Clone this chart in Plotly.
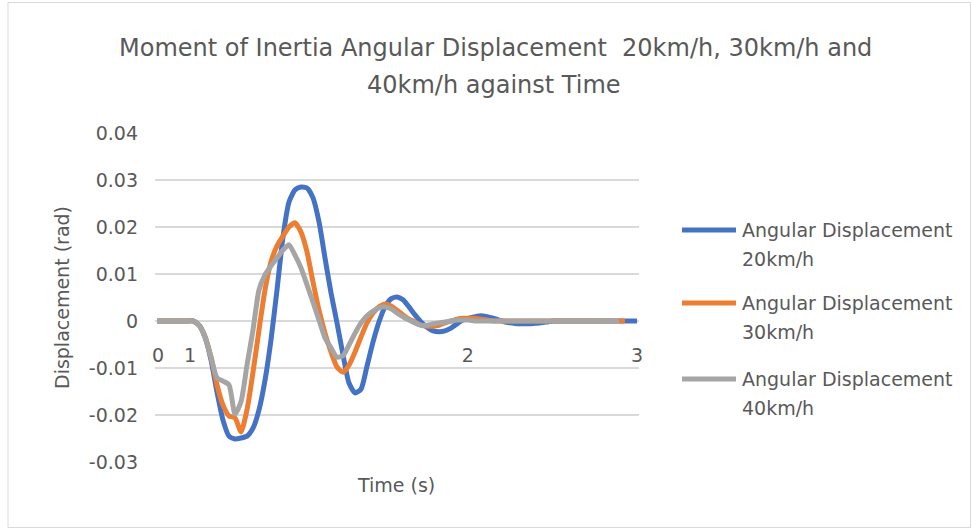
import plotly.graph_objects as go

# Angular displacement (rad) sampled at equal time steps
disp_20 = [
    0, 0, 0, 0, 0, 0, 0, -0.0009, -0.0034, -0.0083,
    -0.0151, -0.0211, -0.0245, -0.0251, -0.0249, -0.0245, -0.0228, -0.0189, -0.0126, -0.0040,
    0.0066, 0.0179, 0.0253, 0.0279, 0.0285, 0.0283, 0.0262, 0.0211, 0.0134, 0.0060,
    -0.0004, -0.0072, -0.0132, -0.0153, -0.0145, -0.0096, -0.0045, -0.0002, 0.0030, 0.0047,
    0.0051, 0.0045, 0.0030, 0.0013, -0.0002, -0.0013, -0.0021, -0.0023, -0.0021, -0.0015,
    -0.0006, 0.0002, 0.0006, 0.0009, 0.0011, 0.0009, 0.0006, 0.0002, -0.0002, -0.0004,
    -0.0006, -0.0006, -0.0006, -0.0005, -0.0004, -0.0002, 0, 0, 0, 0,
    0, 0, 0, 0, 0, 0, 0, 0, 0, 0,
    0,
]
disp_30 = [
    0, 0, 0, 0, 0, 0, 0, -0.0009, -0.0034, -0.0077,
    -0.0136, -0.0179, -0.0202, -0.0206, -0.0236, -0.0189, -0.0109, -0.0019, 0.0066, 0.0126,
    0.0160, 0.0181, 0.0200, 0.0209, 0.0189, 0.0147, 0.0083, 0.0023, -0.0026, -0.0066,
    -0.0098, -0.0109, -0.0094, -0.0066, -0.0034, -0.0004, 0.0017, 0.0030, 0.0036, 0.0032,
    0.0023, 0.0013, 0.0004, -0.0002, -0.0009, -0.0011, -0.0011, -0.0009, -0.0004, 0,
    0.0004, 0.0006, 0.0006, 0.0006, 0.0004, 0.0002, 0, 0, 0, 0,
    0, 0, 0, 0, 0, 0, 0, 0, 0, 0,
    0, 0, 0, 0, 0, 0, 0, 0, 0,
]
disp_40 = [
    0, 0, 0, 0, 0, 0, 0, -0.0009, -0.0034, -0.0077,
    -0.0121, -0.0128, -0.0136, -0.0198, -0.0172, -0.0094, -0.0019, 0.0066, 0.0098, 0.0117,
    0.0134, 0.0151, 0.0162, 0.0140, 0.0113, 0.0077, 0.0040, 0.0002, -0.0036, -0.0057,
    -0.0077, -0.0074, -0.0051, -0.0026, -0.0004, 0.0011, 0.0021, 0.0028, 0.0030, 0.0026,
    0.0017, 0.0009, 0.0002, -0.0004, -0.0009, -0.0009, -0.0006, -0.0004, -0.0002, 0,
    0.0002, 0.0002, 0.0002, 0, 0, 0, 0, 0, 0, 0,
    0, 0, 0, 0, 0, 0, 0, 0, 0, 0,
    0, 0, 0, 0, 0, 0, 0, 0,
]

series_names = [
    "Angular Displacement 20km/h",
    "Angular Displacement 30km/h",
    "Angular Displacement 40km/h",
]
series_colors = ["#4472C4", "#ED7D31", "#A5A5A5"]

# Time axis labels (s) and the sample index each one sits at
time_labels = ["0", "1", "2", "3"]
time_label_index = [0.17, 5.5, 51.8, 80]

y_ticks = [-0.03, -0.02, -0.01, 0, 0.01, 0.02, 0.03, 0.04]

W, H = 972, 530
L, R, T, B = 155, 333, 132, 67
PW, PH = W - L - R, H - T - B
TXT = "#595959"
FONT = "DejaVu Sans"


def px(x):
    return (x - L) / PW


def py(y):
    return (H - B - y) / PH


fig = go.Figure()
for name, vals, col in zip(series_names, [disp_20, disp_30, disp_40], series_colors):
    fig.add_trace(go.Scatter(
        x=list(range(len(vals))), y=vals, name=name, mode="lines",
        line=dict(color=col, width=5, shape="spline", smoothing=0.6),
        showlegend=False, hoverinfo="x+y",
    ))

pad = 0.07 / (PH - 2)
fig.update_layout(
    width=W, height=H,
    margin=dict(l=L, r=R, t=T, b=B, autoexpand=False),
    paper_bgcolor="white", plot_bgcolor="white",
    font=dict(family=FONT, size=19, color=TXT),
    xaxis=dict(
        range=[-1 / 3, 80 + 1 / 3],
        tickvals=time_label_index, ticktext=time_labels,
        showgrid=False, zeroline=False, showline=False,
        ticks="", ticklabelstandoff=21,
        anchor="free", position=(H - B - 321) / PH,
        tickfont=dict(family=FONT, size=19, color=TXT),
    ),
    yaxis=dict(
        range=[-0.03 - pad, 0.04 + pad],
        tickvals=y_ticks, ticktext=[f"{v:g}" for v in y_ticks],
        showgrid=True, gridcolor="#D9D9D9", gridwidth=1.5,
        zeroline=False, showline=False, ticks="", ticklabelstandoff=16,
        tickfont=dict(family=FONT, size=19, color=TXT),
    ),
)

ann = [
    dict(text="Moment of Inertia Angular Displacement\u00a0 20km/h, 30km/h and",
         x=px(495), y=py(48), font=dict(size=24)),
    dict(text="40km/h against Time", x=px(494), y=py(85), font=dict(size=24)),
    dict(text="Displacement (rad)", x=px(62), y=py(298), textangle=-90),
    dict(text="Time (s)", x=px(396), y=py(485)),
]
for a in ann:
    a.update(xref="paper", yref="paper", showarrow=False,
             xanchor="center", yanchor="middle")
    fig.add_annotation(**a)

# Legend drawn beside the plot area
legend_rows = [230, 303, 379]
for name, col, yrow in zip(series_names, series_colors, legend_rows):
    fig.add_shape(type="line", xref="paper", yref="paper",
                  x0=px(682), x1=px(736), y0=py(yrow), y1=py(yrow),
                  line=dict(color=col, width=5))
    first, second = name.rsplit(" ", 1)
    for txt, yy in [(first, yrow), (second, yrow + 29)]:
        fig.add_annotation(text=txt, xref="paper", yref="paper",
                           x=px(740), y=py(yy), showarrow=False,
                           xanchor="left", yanchor="middle")

# Chart border
fig.add_shape(type="rect", xref="paper", yref="paper",
              x0=px(8), x1=px(970.5), y0=py(2.5), y1=py(527.5),
              line=dict(color="#D9D9D9", width=1), layer="below")

fig.write_html("out.html")
